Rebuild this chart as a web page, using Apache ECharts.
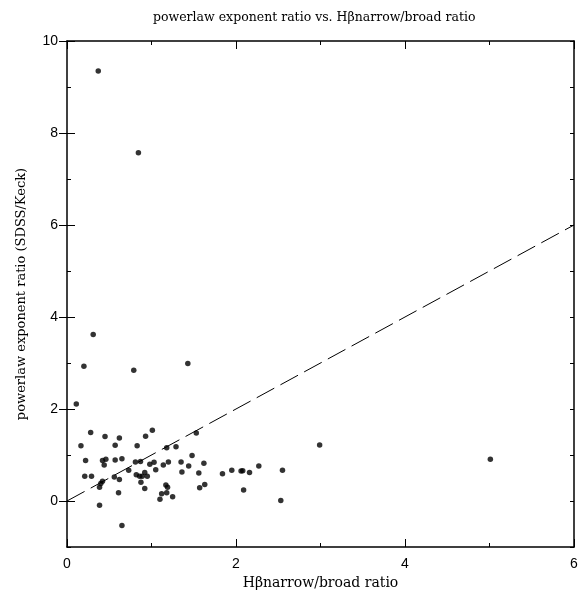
<!DOCTYPE html>
<html>
<head>
<meta charset="utf-8">
<script src="https://cdn.jsdelivr.net/npm/echarts@6/dist/echarts.min.js"></script>
<style>html,body{margin:0;padding:0;background:#fff}#c{width:584px;height:592px}</style>
</head>
<body>
<div id="c"></div>
<script>
const titleText = 'powerlaw exponent ratio vs. H\u03b2narrow/broad ratio';
const xName = 'H\u03b2narrow/broad ratio';
const yName = 'powerlaw exponent ratio (SDSS/Keck)';
const xTickLabels = [0, 2, 4, 6];
const yTickLabels = [0, 2, 4, 6, 8, 10];
const xVals = [0.37,0.845,0.31,0.20,0.79,1.43,0.11,0.28,0.45,0.62,0.93,1.01,1.53,0.165,0.57,0.83,1.18,1.29,0.22,0.42,0.46,0.57,0.65,0.44,0.81,0.87,0.98,1.03,1.20,1.35,1.48,1.62,1.44,1.36,1.14,1.05,0.73,0.21,0.29,0.56,0.62,0.82,0.86,0.89,0.92,0.95,0.875,0.92,0.42,0.40,0.385,0.61,0.385,0.65,1.17,1.19,1.18,1.12,1.10,1.25,1.57,1.63,1.56,1.84,1.95,2.06,2.08,2.16,2.27,2.09,2.55,2.53,2.99,5.01];
const yVals = [9.35,7.57,3.62,2.93,2.84,2.99,2.11,1.49,1.40,1.37,1.41,1.54,1.48,1.20,1.21,1.20,1.16,1.18,0.88,0.88,0.91,0.89,0.92,0.78,0.85,0.86,0.80,0.84,0.85,0.85,0.99,0.82,0.76,0.63,0.78,0.68,0.67,0.54,0.54,0.52,0.47,0.57,0.54,0.54,0.62,0.54,0.41,0.27,0.43,0.38,0.30,0.18,-0.09,-0.53,0.35,0.30,0.18,0.16,0.04,0.09,0.29,0.36,0.61,0.59,0.67,0.65,0.66,0.62,0.76,0.24,0.67,0.01,1.22,0.91];
const fitX = [0, 6];
const fitY = [0, 6];

const chart = echarts.init(document.getElementById('c'), null, {renderer: 'canvas'});
const black = '#000';
const lineStyle = {color: black, width: 1.5};
function xAx(pos, showLabel) {
  return {
    type: 'value', position: pos, min: 0, max: 6, interval: 2,
    axisLine: {show: true, onZero: false, lineStyle: lineStyle},
    axisTick: {show: true, inside: true, length: 8, lineStyle: {color: black, width: 1}},
    minorTick: {show: true, splitNumber: 2, length: 4, lineStyle: {color: black, width: 1}},
    splitLine: {show: false}, minorSplitLine: {show: false},
    axisLabel: {show: showLabel, color: black, fontFamily: 'Liberation Sans', fontSize: 14, margin: 10,
      customValues: xTickLabels},
    name: showLabel ? xName : '', nameLocation: 'middle', nameGap: 28,
    nameTextStyle: {color: black, fontFamily: 'DejaVu Serif', fontSize: 14}
  };
}
function yMinor(pos, showLabel) {
  return {
    type: 'value', position: pos, min: -1, max: 10, interval: 1,
    axisLine: {show: true, onZero: false, lineStyle: lineStyle},
    axisTick: {show: true, inside: true, length: 4, lineStyle: {color: black, width: 1}},
    splitLine: {show: false},
    axisLabel: {show: showLabel, color: black, fontFamily: 'Liberation Sans', fontSize: 14, margin: 9,
      customValues: yTickLabels},
    name: showLabel ? yName : '', nameLocation: 'middle', nameGap: 39, nameRotate: 90,
    nameTextStyle: {color: black, fontFamily: 'DejaVu Serif', fontSize: 13}
  };
}
function yMajor(pos) {
  return {
    type: 'value', position: pos, min: -1, max: 10, interval: 1,
    axisLine: {show: false},
    axisTick: {show: true, inside: true, length: 8, customValues: yTickLabels, lineStyle: {color: black, width: 1}},
    splitLine: {show: false},
    axisLabel: {show: false}
  };
}
chart.setOption({
  animation: false,
  backgroundColor: '#fff',
  title: {text: titleText, left: 148, top: 6,
    textStyle: {color: black, fontFamily: 'DejaVu Serif', fontSize: 12.5, fontWeight: 'normal'}},
  grid: {left: 67, right: 10, top: 41, bottom: 45, containLabel: false, outerBoundsMode: 'none'},
  xAxis: [xAx('bottom', true), xAx('top', false)],
  yAxis: [yMinor('left', true), yMajor('left'), yMinor('right', false), yMajor('right')],
  series: [
    {type: 'scatter', xAxisIndex: 0, yAxisIndex: 0, symbol: 'circle', symbolSize: 5.5,
      itemStyle: {color: black}, data: xVals.map((x, i) => [x, yVals[i]])},
    {type: 'line', xAxisIndex: 0, yAxisIndex: 0, showSymbol: false, symbol: 'none',
      lineStyle: {color: black, width: 1, type: [20, 7]}, data: fitX.map((x, i) => [x, fitY[i]])}
  ]
});
</script>
</body>
</html>
